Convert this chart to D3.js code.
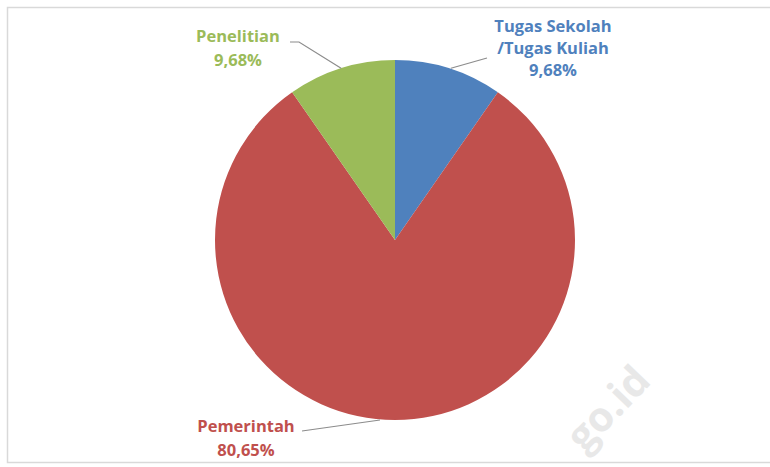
<!DOCTYPE html>
<html>
<head>
<meta charset="utf-8">
<script src="https://cdn.jsdelivr.net/npm/d3@7/dist/d3.min.js"></script>
<style>
  html, body { margin: 0; padding: 0; background: #fff; }
  svg { display: block; }
  text { font-family: "Open Sans", Lato, sans-serif; font-weight: bold; }
</style>
</head>
<body>
<svg id="chart" width="770" height="467"></svg>
<script>
// Tujuan penggunaan data
const categories = ["Tugas Sekolah /Tugas Kuliah", "Pemerintah", "Penelitian"];
const labelLines = [["Tugas Sekolah", "/Tugas Kuliah"], ["Pemerintah"], ["Penelitian"]];
const values = [9.68, 80.65, 9.68];
const valueLabels = ["9,68%", "80,65%", "9,68%"];
const colors = ["#4f81bd", "#c0504d", "#9bbb59"];

const W = 770, H = 467;
const cx = 395, cy = 240, R = 180;

const svg = d3.select("#chart");

// light frame around the plot area
svg.append("rect")
  .attr("x", 7.5).attr("y", 7.5)
  .attr("width", W + 10).attr("height", 455)
  .attr("fill", "none").attr("stroke", "#d9d9d9").attr("stroke-width", 1.5);

// faint watermark
svg.append("text")
  .attr("transform", "translate(608,408) rotate(-46)")
  .attr("text-anchor", "middle")
  .attr("dy", "0.35em")
  .attr("font-size", 41)
  .attr("fill", "#e8e8e8")
  .text("go.id");

const data = categories.map((c, i) => ({
  name: c, lines: labelLines[i], value: values[i], label: valueLabels[i], color: colors[i]
}));

const pie = d3.pie().sort(null).value(d => d.value);
const arcs = pie(data);
const arc = d3.arc().innerRadius(0).outerRadius(R);

const g = svg.append("g").attr("transform", `translate(${cx},${cy})`);

g.selectAll("path.slice")
  .data(arcs)
  .join("path")
  .attr("class", "slice")
  .attr("d", arc)
  .attr("fill", d => d.data.color);

// label anchors (centre x, first baseline y, line step) and leader end points
const labelPos = [
  { x: 553, y: 32, step: 22, lx: 487, ly: 58 },   // Tugas Sekolah
  { x: 246, y: 432, step: 24, lx: 302, ly: 431 }, // Pemerintah
  { x: 238, y: 42, step: 24, lx: 290, ly: 42 }    // Penelitian
];

function edgePoint(a) {
  const m = (a.startAngle + a.endAngle) / 2;
  return [cx + R * Math.sin(m), cy - R * Math.cos(m)];
}

arcs.forEach((a, i) => {
  const p = labelPos[i];
  const [ex, ey] = edgePoint(a);
  let pts;
  if (i === 0) pts = [[ex + 2, ey], [p.lx, p.ly]];
  else if (i === 1) pts = [[ex - 15, ey], [p.lx, p.ly]];
  else pts = [[ex, ey], [p.lx + 9, p.ly], [p.lx, p.ly]];
  svg.append("path")
    .attr("d", d3.line()(pts))
    .attr("fill", "none")
    .attr("stroke", "#8c8c8c")
    .attr("stroke-width", 1.2);

  const t = svg.append("text")
    .attr("text-anchor", "middle")
    .attr("font-size", 16.5)
    .attr("fill", a.data.color);
  const lines = a.data.lines.concat([a.data.label]);
  lines.forEach((ln, k) => {
    t.append("tspan")
      .attr("x", p.x)
      .attr("y", p.y + k * p.step)
      .text(ln);
  });
});
</script>
</body>
</html>
